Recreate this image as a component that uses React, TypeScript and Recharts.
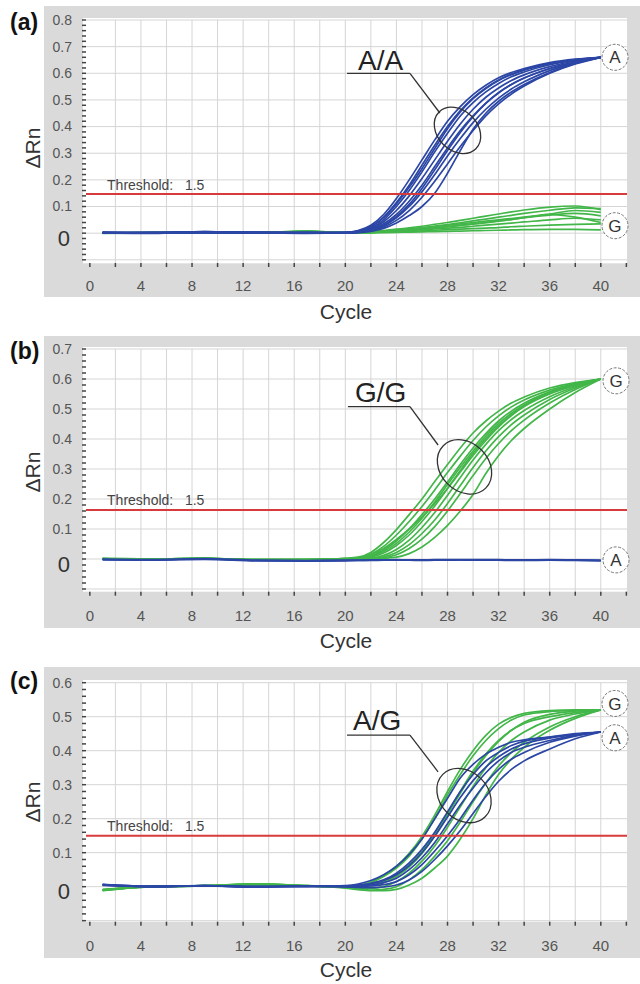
import React from 'react';
import { LineChart, Line, XAxis, YAxis, CartesianGrid, ReferenceLine, ReferenceDot } from 'recharts';

// ---------- data ----------
const CYCLES = [1, 5, 9, 13, 17, 20, 21, 22, 23, 24, 25, 26, 27, 28, 29, 30, 31, 32, 33, 34, 36, 38, 40];
const X_TICKS = [0, 2, 4, 6, 8, 10, 12, 14, 16, 18, 20, 22, 24, 26, 28, 30, 32, 34, 36, 38, 40, 42];
const X_LABELS = [0, 4, 8, 12, 16, 20, 24, 28, 32, 36, 40];
const X_GRID = [2, 4, 6, 8, 10, 12, 14, 16, 18, 20, 22, 24, 26, 28, 30, 32, 34, 36, 38, 40];

const Y_MAJOR_A = [-0.1, 0, 0.1, 0.2, 0.3, 0.4, 0.5, 0.6, 0.7, 0.8];
const Y_MAJOR_B = [-0.1, 0, 0.1, 0.2, 0.3, 0.4, 0.5, 0.6, 0.7];
const Y_MAJOR_C = [-0.1, 0, 0.1, 0.2, 0.3, 0.4, 0.5, 0.6];

// panel (a) A/A: blue = allele A, green = allele G
const A_BLUE = [
  [0.004, 0.001, 0.006, 0.001, 0.002, 0.003, 0.01, 0.03, 0.07, 0.13, 0.2, 0.275, 0.35, 0.42, 0.475, 0.52, 0.555, 0.583, 0.603, 0.618, 0.64, 0.653, 0.66],
  [0.001, 0.002, 0.005, 0.002, -0.001, 0.002, 0.008, 0.025, 0.06, 0.115, 0.18, 0.255, 0.33, 0.4, 0.46, 0.508, 0.545, 0.575, 0.597, 0.613, 0.636, 0.651, 0.66],
  [0.002, 0.003, 0.002, 0.004, 0.002, 0.002, 0.006, 0.02, 0.05, 0.1, 0.16, 0.23, 0.305, 0.375, 0.44, 0.49, 0.53, 0.562, 0.587, 0.605, 0.632, 0.649, 0.66],
  [0.0, 0.001, 0.006, 0.002, 0.0, 0.002, 0.005, 0.017, 0.043, 0.085, 0.14, 0.205, 0.275, 0.345, 0.41, 0.465, 0.51, 0.545, 0.573, 0.594, 0.625, 0.646, 0.66],
  [0.002, 0.0, 0.002, 0.003, 0.001, 0.001, 0.004, 0.014, 0.035, 0.07, 0.12, 0.18, 0.25, 0.32, 0.385, 0.44, 0.488, 0.527, 0.558, 0.582, 0.618, 0.643, 0.66],
  [0.001, 0.002, 0.004, 0.001, 0.002, 0.001, 0.003, 0.011, 0.028, 0.058, 0.1, 0.155, 0.22, 0.29, 0.355, 0.415, 0.465, 0.507, 0.541, 0.568, 0.61, 0.64, 0.66],
  [0.003, 0.002, 0.002, 0.0, 0.002, 0.001, 0.003, 0.009, 0.023, 0.048, 0.085, 0.135, 0.195, 0.26, 0.325, 0.385, 0.44, 0.485, 0.522, 0.552, 0.6, 0.635, 0.66],
  [0.001, -0.001, 0.005, 0.002, 0.001, 0.001, 0.002, 0.007, 0.018, 0.038, 0.066, 0.1, 0.15, 0.225, 0.31, 0.39, 0.45, 0.495, 0.53, 0.558, 0.603, 0.637, 0.66],
  [0.002, 0.001, 0.002, 0.001, 0.003, 0.002, 0.007, 0.024, 0.058, 0.11, 0.172, 0.242, 0.318, 0.392, 0.455, 0.505, 0.543, 0.573, 0.595, 0.612, 0.635, 0.65, 0.66],
  [0.001, 0.002, 0.003, 0.003, 0.0, 0.001, 0.004, 0.012, 0.03, 0.062, 0.108, 0.168, 0.238, 0.31, 0.378, 0.437, 0.487, 0.527, 0.558, 0.582, 0.617, 0.642, 0.66],
];
const A_GREEN = [
  [0.0, 0.002, 0.004, 0.002, 0.008, 0.002, 0.003, 0.006, 0.01, 0.015, 0.02, 0.026, 0.033, 0.04, 0.048, 0.056, 0.064, 0.072, 0.08, 0.087, 0.098, 0.102, 0.088],
  [0.001, 0.001, 0.003, 0.002, 0.006, 0.002, 0.002, 0.004, 0.007, 0.011, 0.015, 0.02, 0.026, 0.032, 0.039, 0.046, 0.053, 0.06, 0.067, 0.074, 0.086, 0.095, 0.092],
  [-0.001, 0.001, 0.004, 0.001, 0.007, 0.002, 0.002, 0.004, 0.006, 0.009, 0.012, 0.016, 0.02, 0.025, 0.03, 0.035, 0.04, 0.046, 0.052, 0.058, 0.068, 0.074, 0.065],
  [0.001, 0.002, 0.003, 0.002, 0.005, 0.001, 0.001, 0.003, 0.005, 0.007, 0.01, 0.013, 0.016, 0.019, 0.022, 0.026, 0.03, 0.034, 0.038, 0.042, 0.05, 0.056, 0.05],
  [0.0, 0.001, 0.004, 0.002, 0.006, 0.001, 0.001, 0.002, 0.004, 0.005, 0.007, 0.009, 0.011, 0.013, 0.015, 0.017, 0.019, 0.021, 0.024, 0.026, 0.03, 0.033, 0.035],
  [0.002, 0.002, 0.003, 0.001, 0.007, 0.002, 0.002, 0.003, 0.005, 0.008, 0.011, 0.015, 0.019, 0.024, 0.029, 0.034, 0.039, 0.045, 0.051, 0.058, 0.07, 0.06, 0.04],
  [0.001, 0.001, 0.003, 0.002, 0.004, 0.001, 0.001, 0.001, 0.002, 0.003, 0.004, 0.005, 0.006, 0.007, 0.008, 0.009, 0.01, 0.011, 0.012, 0.013, 0.014, 0.014, 0.012],
  [0.0, 0.002, 0.004, 0.002, 0.008, 0.002, 0.003, 0.005, 0.008, 0.012, 0.016, 0.02, 0.025, 0.03, 0.035, 0.04, 0.045, 0.05, 0.055, 0.06, 0.072, 0.085, 0.078],
];

// panel (b) G/G
const B_GREEN = [
  [0.0, 0.0, 0.001, -0.003, -0.002, 0.002, 0.006, 0.022, 0.055, 0.098, 0.148, 0.2, 0.258, 0.315, 0.37, 0.42, 0.46, 0.493, 0.52, 0.54, 0.57, 0.588, 0.6],
  [0.001, -0.001, 0.002, -0.002, -0.003, 0.001, 0.004, 0.016, 0.042, 0.08, 0.125, 0.175, 0.23, 0.288, 0.343, 0.395, 0.44, 0.477, 0.507, 0.53, 0.563, 0.585, 0.6],
  [0.0, 0.0, 0.001, -0.003, -0.002, 0.001, 0.003, 0.01, 0.03, 0.06, 0.1, 0.148, 0.2, 0.257, 0.315, 0.37, 0.418, 0.46, 0.493, 0.519, 0.557, 0.582, 0.6],
  [0.001, 0.0, 0.002, -0.002, -0.002, 0.0, 0.001, 0.006, 0.02, 0.045, 0.08, 0.125, 0.177, 0.235, 0.295, 0.352, 0.402, 0.445, 0.48, 0.508, 0.55, 0.578, 0.6],
  [0.0, -0.001, 0.001, -0.003, -0.003, 0.0, 0.001, 0.003, 0.012, 0.032, 0.063, 0.105, 0.155, 0.212, 0.272, 0.33, 0.382, 0.428, 0.465, 0.495, 0.541, 0.574, 0.6],
  [0.001, 0.0, 0.001, -0.002, -0.002, -0.001, 0.0, 0.002, 0.007, 0.022, 0.048, 0.085, 0.13, 0.185, 0.245, 0.305, 0.36, 0.408, 0.448, 0.48, 0.532, 0.57, 0.6],
  [0.0, 0.0, 0.002, -0.003, -0.003, -0.001, 0.0, 0.001, 0.004, 0.014, 0.035, 0.066, 0.108, 0.16, 0.218, 0.278, 0.335, 0.385, 0.428, 0.463, 0.52, 0.565, 0.6],
  [0.001, -0.001, 0.001, -0.002, -0.002, -0.001, -0.001, 0.0, 0.002, 0.006, 0.018, 0.04, 0.072, 0.112, 0.16, 0.215, 0.285, 0.345, 0.395, 0.435, 0.5, 0.555, 0.6],
  [0.0, 0.0, 0.001, -0.003, -0.002, 0.001, 0.004, 0.014, 0.035, 0.065, 0.1, 0.14, 0.185, 0.235, 0.29, 0.345, 0.395, 0.44, 0.478, 0.51, 0.555, 0.583, 0.6],
  [0.001, 0.0, 0.002, -0.002, -0.003, 0.0, 0.002, 0.008, 0.025, 0.052, 0.09, 0.136, 0.19, 0.248, 0.306, 0.36, 0.41, 0.452, 0.486, 0.513, 0.553, 0.58, 0.6],
];
const B_BLUE = [
  [0.0, -0.002, 0.001, -0.004, -0.005, -0.004, -0.004, -0.003, -0.003, -0.002, -0.003, -0.003, -0.002, -0.002, -0.002, -0.002, -0.002, -0.002, -0.003, -0.003, -0.002, -0.003, -0.004],
  [-0.003, -0.004, -0.001, -0.006, -0.007, -0.006, -0.005, -0.005, -0.004, -0.004, -0.004, -0.005, -0.004, -0.004, -0.003, -0.004, -0.004, -0.004, -0.005, -0.005, -0.004, -0.005, -0.006],
  [-0.001, -0.003, 0.0, -0.005, -0.006, -0.005, -0.005, -0.004, -0.004, -0.003, -0.003, -0.004, -0.003, -0.003, -0.003, -0.003, -0.003, -0.003, -0.004, -0.004, -0.003, -0.004, -0.005],
];

// panel (c) A/G
const C_GREEN = [
  [-0.008, 0.001, 0.003, 0.007, 0.002, 0.0, 0.003, 0.012, 0.03, 0.055, 0.09, 0.14, 0.2, 0.27, 0.33, 0.385, 0.43, 0.465, 0.49, 0.505, 0.515, 0.518, 0.52],
  [-0.01, 0.0, 0.002, 0.008, 0.003, 0.0, 0.001, 0.005, 0.015, 0.035, 0.065, 0.105, 0.155, 0.215, 0.28, 0.34, 0.39, 0.43, 0.46, 0.48, 0.5, 0.512, 0.52],
  [-0.012, 0.001, 0.003, 0.006, 0.002, -0.002, -0.004, -0.005, 0.0, 0.015, 0.04, 0.075, 0.12, 0.175, 0.235, 0.295, 0.35, 0.395, 0.43, 0.455, 0.49, 0.508, 0.52],
  [-0.009, 0.0, 0.002, 0.007, 0.003, -0.003, -0.007, -0.01, -0.008, 0.0, 0.02, 0.05, 0.09, 0.135, 0.19, 0.25, 0.305, 0.355, 0.395, 0.425, 0.47, 0.5, 0.52],
  [-0.011, 0.001, 0.003, 0.008, 0.002, -0.004, -0.009, -0.012, -0.012, -0.008, 0.005, 0.025, 0.055, 0.09, 0.14, 0.2, 0.27, 0.33, 0.375, 0.41, 0.46, 0.495, 0.52],
  [-0.01, 0.0, 0.002, 0.006, 0.002, -0.001, 0.0, 0.004, 0.012, 0.03, 0.058, 0.098, 0.15, 0.212, 0.275, 0.335, 0.385, 0.427, 0.46, 0.484, 0.507, 0.516, 0.52],
  [-0.009, 0.001, 0.003, 0.007, 0.003, 0.001, 0.004, 0.014, 0.033, 0.06, 0.098, 0.148, 0.21, 0.28, 0.345, 0.4, 0.445, 0.478, 0.498, 0.51, 0.518, 0.52, 0.52],
];
const C_BLUE = [
  [0.006, 0.001, 0.002, 0.0, 0.001, 0.003, 0.008, 0.018, 0.035, 0.06, 0.095, 0.14, 0.2, 0.26, 0.32, 0.36, 0.39, 0.41, 0.425, 0.432, 0.44, 0.448, 0.455],
  [0.005, 0.0, 0.003, -0.001, 0.002, 0.002, 0.005, 0.01, 0.02, 0.04, 0.07, 0.11, 0.16, 0.22, 0.28, 0.33, 0.37, 0.395, 0.415, 0.428, 0.44, 0.45, 0.455],
  [0.007, 0.001, 0.003, 0.0, 0.001, 0.001, 0.002, 0.005, 0.012, 0.025, 0.05, 0.085, 0.13, 0.185, 0.24, 0.29, 0.335, 0.37, 0.395, 0.41, 0.43, 0.445, 0.455],
  [0.004, 0.0, 0.002, 0.0, 0.001, 0.0, 0.0, 0.002, 0.006, 0.015, 0.035, 0.065, 0.105, 0.15, 0.2, 0.255, 0.305, 0.345, 0.375, 0.395, 0.425, 0.443, 0.455],
  [0.006, 0.001, 0.002, -0.001, 0.002, 0.0, -0.002, -0.003, -0.001, 0.005, 0.02, 0.045, 0.08, 0.12, 0.165, 0.215, 0.265, 0.31, 0.345, 0.37, 0.405, 0.435, 0.455],
  [0.005, 0.0, 0.003, 0.0, 0.001, 0.001, 0.003, 0.008, 0.018, 0.035, 0.062, 0.1, 0.148, 0.205, 0.262, 0.312, 0.352, 0.382, 0.405, 0.42, 0.437, 0.448, 0.455],
];

const THRESHOLDS = [0.147, 0.163, 0.15];
const GENOTYPES = ['A/A', 'G/G', 'A/G'];
const PANEL_LABELS = ['(a)', '(b)', '(c)'];

// ---------- styling ----------
const BLUE = '#2b46a5';
const GREEN = '#43b649';
const RED = '#d8393b';
const FONT = '"Liberation Sans", Arial, sans-serif';

type Anno = {
  thr: { x: number; y: number };
  text: { x: number; y: number };
  under: [number, number, number];
  diag: { x: number; y: number };
  ell: { x: number; y: number; rx: number; ry: number };
  circles: { x: number; y: number; t: string }[];
};

const PANELS = [
  {
    top: 0, height: 330, margin: { top: 20, right: 13, bottom: 37, left: 46 }, yDomain: [-0.112, 0.8], yMajor: Y_MAJOR_A,
    groups: [{ color: GREEN, curves: A_GREEN }, { color: BLUE, curves: A_BLUE }], xLabelDy: 27.5,
    anno: {
      thr: { x: 1.35, y: 0.162 }, text: { x: 20.99, y: 0.613 }, under: [20.13, 25.06, 0.6], diag: { x: 27.4, y: 0.451 },
      ell: { x: 28.78, y: 0.386, rx: 26, ry: 20 },
      circles: [{ x: 41.11, y: 0.66, t: 'A' }, { x: 41.11, y: 0.028, t: 'G' }],
    } as Anno,
    bg: { gy: 6, gh: 291, wy: 18, wh: 245.3, label: 30, ylab: 148, cyc: 319 },
  },
  {
    top: 330, height: 330, margin: { top: 19, right: 13, bottom: 38.3, left: 46 }, yDomain: [-0.109, 0.7], yMajor: Y_MAJOR_B,
    groups: [{ color: GREEN, curves: B_GREEN }, { color: BLUE, curves: B_BLUE }], xLabelDy: 29,
    anno: {
      thr: { x: 1.35, y: 0.18 }, text: { x: 20.76, y: 0.524 }, under: [20.2, 25.06, 0.508], diag: { x: 27.26, y: 0.38 },
      ell: { x: 29.33, y: 0.307, rx: 30, ry: 24 },
      circles: [{ x: 41.19, y: 0.594, t: 'G' }, { x: 41.19, y: -0.003, t: 'A' }],
    } as Anno,
    bg: { gy: 336, gh: 292, wy: 347, wh: 244.7, label: 359, ylab: 472, cyc: 648 },
  },
  {
    top: 660, height: 324, margin: { top: 22.7, right: 13, bottom: 32.3, left: 46 }, yDomain: [-0.103, 0.6], yMajor: Y_MAJOR_C,
    groups: [{ color: GREEN, curves: C_GREEN }, { color: BLUE, curves: C_BLUE }], xLabelDy: 29.5,
    anno: {
      thr: { x: 1.35, y: 0.164 }, text: { x: 20.6, y: 0.461 }, under: [20.13, 25.06, 0.446], diag: { x: 27.26, y: 0.338 },
      ell: { x: 29.29, y: 0.268, rx: 30, ry: 24 },
      circles: [{ x: 41.11, y: 0.539, t: 'G' }, { x: 41.11, y: 0.438, t: 'A' }],
    } as Anno,
    bg: { gy: 667, gh: 291, wy: 680, wh: 241.7, label: 689, ylab: 802, cyc: 977 },
  },
];

function minorTicks(majors: number[]) {
  const out: number[] = [];
  for (let i = 0; i < majors.length - 1; i++) {
    for (let k = 0; k < 5; k++) out.push(Math.round((majors[i] + k * 0.02) * 1000) / 1000);
  }
  out.push(majors[majors.length - 1]);
  return out;
}

const isMajor = (v: number) => Math.abs(v * 10 - Math.round(v * 10)) < 1e-6;

// y tick labels: tick line drawn by the axis (size 4), labels here. x = axis - 4
const YTick = (props: any) => {
  const { x, y, payload } = props;
  const v = payload.value as number;
  if (!isMajor(v) || v < -0.05) return <g />;
  return v === 0 ? (
    <text x={x - 12} y={y + 5} dy="0.35em" textAnchor="end" fontSize={22} fill="#333">0</text>
  ) : (
    <text x={x - 10} y={y} dy="0.35em" textAnchor="end" fontSize={14} fill="#555">{v.toFixed(1)}</text>
  );
};

// x tick labels: y = plot bottom + 4
const makeXTick = (dy: number) => (props: any) => {
  const { x, y, payload } = props;
  const v = payload.value as number;
  if (!X_LABELS.includes(v)) return <g />;
  return <text x={x} y={y - 4 + dy} textAnchor="middle" fontSize={15} fill="#555">{v}</text>;
};

function Panel({ idx }: { idx: number }) {
  const p = PANELS[idx];
  const keys: { key: string; color: string }[] = [];
  const data = CYCLES.map((c, i) => {
    const row: any = { cycle: c };
    p.groups.forEach((g, gi) => g.curves.forEach((arr, k) => { row[`g${gi}_${k}`] = arr[i]; }));
    return row;
  });
  p.groups.forEach((g, gi) => g.curves.forEach((_, k) => keys.push({ key: `g${gi}_${k}`, color: g.color })));
  const a = p.anno;
  return (
    <div style={{ position: 'absolute', left: 0, top: p.top }}>
      <LineChart width={640} height={p.height} data={data} margin={p.margin} style={{ fontFamily: FONT }}>
        <CartesianGrid stroke="#d5d5d5" strokeWidth={1} horizontalValues={p.yMajor} verticalValues={X_GRID} />
        <XAxis type="number" dataKey="cycle" domain={[-0.3, 42.05]} ticks={X_TICKS} interval={0} allowDataOverflow
          tick={makeXTick(p.xLabelDy)} tickLine={{ stroke: '#444', strokeWidth: 1.5 }} axisLine={false} tickSize={4} tickMargin={0} height={30} />
        <YAxis type="number" domain={p.yDomain} ticks={minorTicks(p.yMajor)} interval={0} allowDataOverflow
          tick={YTick} tickLine={{ stroke: '#444', strokeWidth: 1.5 }} axisLine={false} tickSize={4} tickMargin={0} width={40} />
        {keys.map((k) => (
          <Line key={k.key} dataKey={k.key} type="monotone" stroke={k.color} strokeWidth={1.7} dot={false}
            activeDot={false} isAnimationActive={false} />
        ))}
        <ReferenceLine y={THRESHOLDS[idx]} stroke={RED} strokeWidth={2} />
        <ReferenceDot x={a.thr.x} y={a.thr.y} r={0} shape={(s: any) => (
          <text x={s.cx} y={s.cy} fontSize={14} fill="#444">{'Threshold:\u00a0\u00a0\u00a01.5'}</text>
        )} />
        <ReferenceLine segment={[{ x: a.under[0], y: a.under[2] }, { x: a.under[1], y: a.under[2] }]} stroke="#333" strokeWidth={1.3} />
        <ReferenceLine segment={[{ x: a.under[1], y: a.under[2] }, { x: a.diag.x, y: a.diag.y }]} stroke="#333" strokeWidth={1.3} />
        <ReferenceDot x={a.text.x} y={a.text.y} r={0} shape={(s: any) => (
          <text x={s.cx} y={s.cy} fontSize={28} fill="#222">{GENOTYPES[idx]}</text>
        )} />
        <ReferenceDot x={a.ell.x} y={a.ell.y} r={0} shape={(s: any) => (
          <ellipse cx={s.cx} cy={s.cy} rx={a.ell.rx} ry={a.ell.ry} transform={`rotate(45 ${s.cx} ${s.cy})`}
            fill="none" stroke="#333" strokeWidth={1.3} />
        )} />
        {a.circles.map((c, i) => (
          <ReferenceDot key={i} x={c.x} y={c.y} r={13} shape={(s: any) => (
            <g>
              <circle cx={s.cx} cy={s.cy} r={13} fill="#fff" stroke="#777" strokeWidth={1} strokeDasharray="3 1.5" />
              <text x={s.cx} y={s.cy} dy="0.36em" textAnchor="middle" fontSize={17} fill="#333">{c.t}</text>
            </g>
          )} />
        ))}
      </LineChart>
    </div>
  );
}

export default function App() {
  return (
    <div style={{ position: 'absolute', left: 0, top: 0, width: 640, height: 984, background: '#fff', fontFamily: FONT }}>
      <svg width={640} height={984} style={{ position: 'absolute', left: 0, top: 0 }}>
        {PANELS.map((p, i) => (
          <g key={i}>
            <rect x={44} y={p.bg.gy} width={596} height={p.bg.gh} fill="#dadada" />
            <rect x={83} y={p.bg.wy} width={544} height={p.bg.wh} fill="#ffffff" />
            <text x={10} y={p.bg.label} fontSize={23} fontWeight="bold" fill="#111" fontFamily={FONT}>{PANEL_LABELS[i]}</text>
            <text x={32} y={p.bg.ylab} transform={`rotate(-90 32 ${p.bg.ylab})`} textAnchor="middle" dominantBaseline="central"
              fontSize={21} fill="#333" fontFamily={FONT}>ΔRn</text>
            <text x={346} y={p.bg.cyc} textAnchor="middle" fontSize={21} fill="#333" fontFamily={FONT}>Cycle</text>
          </g>
        ))}
      </svg>
      {PANELS.map((_, i) => <Panel key={i} idx={i} />)}
    </div>
  );
}
